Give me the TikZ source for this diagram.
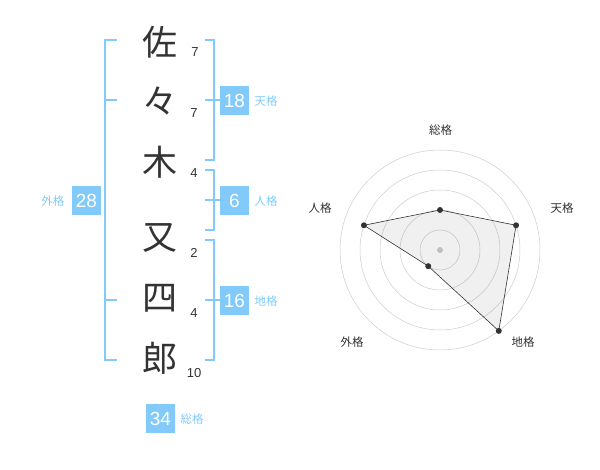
\documentclass[tikz,border=0pt]{standalone}
\usepackage{fontspec}
\setmainfont{Liberation Sans}
\newfontfamily\cjk{Noto Sans CJK JP}
\definecolor{lb}{RGB}{130,202,250}
\definecolor{dk}{RGB}{51,51,51}
\definecolor{gr}{RGB}{205,205,205}
\begin{document}
\begin{tikzpicture}[x=1pt,y=-1pt,
  kanji/.style={font=\cjk\fontsize{35}{35}\selectfont,text=dk,inner sep=0pt},
  num/.style={font=\fontsize{13}{13}\selectfont,text=dk,inner sep=0pt},
  brk/.style={draw=lb,line width=1.6pt},
  vbox/.style={fill=lb,text=white,minimum width=29pt,minimum height=29pt,inner sep=0pt,font=\fontsize{19}{19}\selectfont},
  lbl/.style={text=lb,font=\cjk\fontsize{11.5}{11.5}\selectfont,inner sep=0pt},
  axl/.style={text=dk,font=\cjk\fontsize{11.5}{11.5}\selectfont,inner sep=0pt},
  ring/.style={draw=gr,line width=0.5pt},
  pt/.style={circle,fill=dk,inner sep=0pt,minimum size=6pt}]
\useasboundingbox (0,0) rectangle (600,470);
% kanji
\node[kanji] (k1) at (160,42) {佐};
\node[kanji] (k2) at (160,101) {々};
\node[kanji] (k3) at (160,162) {木};
\node[kanji] (k4) at (160,238) {又};
\node[kanji] (k5) at (160,298) {四};
\node[kanji] (k6) at (160,358) {郎};
\node[num] (n1) at (195,52) {7};
\node[num] (n2) at (194,113) {7};
\node[num] (n3) at (194,173) {4};
\node[num] (n4) at (194,253) {2};
\node[num] (n5) at (194,313) {4};
\node[num] (n6) at (194,373) {10};
% left bracket
\draw[brk] (117,40) -- (105,40) -- (105,360) -- (117,360);
\draw[brk] (105,100) -- (117,100);
\draw[brk] (105,300) -- (117,300);
\node[vbox] (g) at (86.5,200.5) {28};
\node[lbl] (gl) at (53,201) {外格};
% right brackets
\draw[brk] (205,40) -- (214,40) -- (214,160) -- (205,160);
\draw[brk] (205,100) -- (221,100);
\node[vbox] (t) at (234.5,100.5) {18};
\node[lbl] (tl) at (266,101) {天格};
\draw[brk] (205,170) -- (214,170) -- (214,230) -- (205,230);
\draw[brk] (205,200) -- (221,200);
\node[vbox] (j) at (234.5,200.5) {6};
\node[lbl] (jl) at (266,201) {人格};
\draw[brk] (205,240) -- (214,240) -- (214,360) -- (205,360);
\draw[brk] (205,300) -- (221,300);
\node[vbox] (c) at (234.5,300.5) {16};
\node[lbl] (cl) at (266,301) {地格};
\node[vbox] (s) at (160.5,418.5) {34};
\node[lbl] (sl) at (192,419) {総格};
% radar
\coordinate (O) at (440,250);
\foreach \r in {20,40,60,80,100} \draw[ring] (O) circle (\r);
\fill[gr] (O) circle (3);
\path (O) ++(0,-40) coordinate (pS);
\path (O) ++({80*cos(18)},{-80*sin(18)}) coordinate (pT);
\path (O) ++({100*cos(54)},{100*sin(54)}) coordinate (pC);
\path (O) ++({-20*cos(54)},{20*sin(54)}) coordinate (pG);
\path (O) ++({-80*cos(18)},{-80*sin(18)}) coordinate (pJ);
\filldraw[fill=black,fill opacity=0.06,draw=dk,line width=0.6pt] (pS) -- (pT) -- (pC) -- (pG) -- (pJ) -- cycle;
\foreach \p in {pS,pT,pC,pG,pJ} \node[pt] at (\p) {};
\node[axl] (aS) at (440.5,130) {総格};
\node[axl] (aT) at (562,208) {天格};
\node[axl] (aJ) at (320,208) {人格};
\node[axl] (aG) at (352,342) {外格};
\node[axl] (aC) at (523,342) {地格};
\end{tikzpicture}
\end{document}
